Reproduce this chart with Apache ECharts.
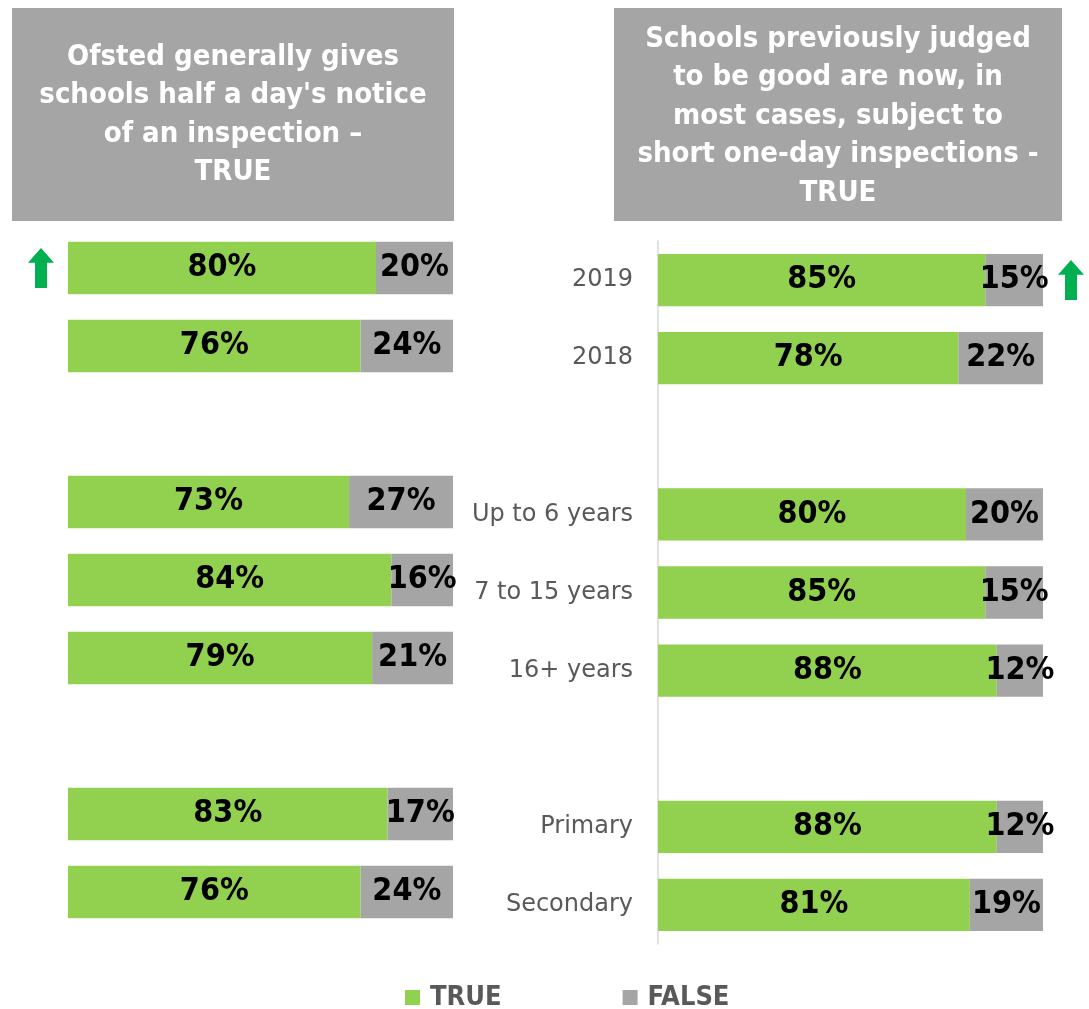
<!DOCTYPE html>
<html>
<head>
<meta charset="utf-8">
<script src="https://cdn.jsdelivr.net/npm/echarts@6/dist/echarts.min.js"></script>
<style>html,body{margin:0;padding:0;background:#fff}#c{width:1089px;height:1009px}</style>
</head>
<body>
<div id="c"></div>
<script>
const categories = ['2019', '2018', ' ', 'Up to 6 years', '7 to 15 years', '16+ years', '  ', 'Primary', 'Secondary'];
const leftTrue  = [80, 76, null, 73, 84, 79, null, 83, 76];
const leftFalse = [20, 24, null, 27, 16, 21, null, 17, 24];
const rightTrue  = [85, 78, null, 80, 85, 88, null, 88, 81];
const rightFalse = [15, 22, null, 20, 15, 12, null, 12, 19];
const leftTitle = "Ofsted generally gives\nschools half a day's notice\nof an inspection –\nTRUE";
const rightTitle = "Schools previously judged\nto be good are now, in\nmost cases, subject to\nshort one-day inspections -\nTRUE";

const GREEN = '#92d050', GREY = '#a5a5a5', ARROW = '#00b050';
const FONT = '"DejaVu Sans Condensed", "DejaVu Sans", sans-serif';
const FONT_W = '"DejaVu Sans", sans-serif';
const arrowPath = 'path://M13,0 L26,14 L19,14 L19,38 L7,38 L7,14 L0,14 Z';

const valLabel = {
  show: true, position: 'inside', color: '#000', fontFamily: FONT,
  fontWeight: 'bold', fontSize: 32, formatter: p => p.value == null ? '' : p.value + '%'
};

const chart = echarts.init(document.getElementById('c'));
chart.setOption({
  animation: false,
  backgroundColor: '#fff',
  grid: [
    { left: 68, width: 385, top: 229, height: 702 },
    { left: 658, width: 385, top: 241, height: 703 }
  ],
  xAxis: [
    { gridIndex: 0, type: 'value', min: 0, max: 100, show: false },
    { gridIndex: 1, type: 'value', min: 0, max: 100, show: false }
  ],
  yAxis: [
    { gridIndex: 0, type: 'category', data: categories, inverse: true, show: false },
    { gridIndex: 1, type: 'category', data: categories, inverse: true,
      axisLine: { show: true, lineStyle: { color: '#d9d9d9', width: 1.5 } },
      axisTick: { show: false },
      axisLabel: { color: '#595959', fontFamily: FONT_W, fontSize: 24, margin: 25 } }
  ],
  legend: {
    left: 400, top: 979, itemWidth: 15, itemHeight: 15, itemGap: 121,
    icon: 'rect',
    data: ['TRUE', 'FALSE'],
    textStyle: { color: '#595959', fontFamily: FONT, fontWeight: 'bold', fontSize: 27, padding: [0, 0, 0, 5] }
  },
  graphic: [
    { type: 'rect', shape: { x: 12, y: 8, width: 442, height: 213 }, style: { fill: GREY }, silent: true },
    { type: 'text', x: 233, y: 115, style: { text: leftTitle, fill: '#fff', font: 'bold 29px ' + FONT,
      textAlign: 'center', textVerticalAlign: 'middle', lineHeight: 38.5 }, silent: true },
    { type: 'rect', shape: { x: 614, y: 8, width: 448, height: 213 }, style: { fill: GREY }, silent: true },
    { type: 'text', x: 838, y: 116, style: { text: rightTitle, fill: '#fff', font: 'bold 29px ' + FONT,
      textAlign: 'center', textVerticalAlign: 'middle', lineHeight: 38.5 }, silent: true }
  ],
  series: [
    { name: 'TRUE', type: 'bar', stack: 'l', xAxisIndex: 0, yAxisIndex: 0, data: leftTrue,
      barCategoryGap: '33%', itemStyle: { color: GREEN }, label: valLabel,
      markPoint: { symbol: arrowPath, symbolSize: [26, 40], symbolOffset: [-27, 0],
        itemStyle: { color: ARROW }, label: { show: false },
        data: [{ coord: [0, 0] }] } },
    { name: 'FALSE', type: 'bar', stack: 'l', xAxisIndex: 0, yAxisIndex: 0, data: leftFalse,
      barCategoryGap: '33%', itemStyle: { color: GREY }, label: valLabel },
    { name: 'TRUE', type: 'bar', stack: 'r', xAxisIndex: 1, yAxisIndex: 1, data: rightTrue,
      barCategoryGap: '33%', itemStyle: { color: GREEN }, label: valLabel },
    { name: 'FALSE', type: 'bar', stack: 'r', xAxisIndex: 1, yAxisIndex: 1, data: rightFalse,
      barCategoryGap: '33%', itemStyle: { color: GREY }, label: valLabel,
      markPoint: { symbol: arrowPath, symbolSize: [26, 40], symbolOffset: [28, 0],
        itemStyle: { color: ARROW }, label: { show: false },
        data: [{ coord: [100, 0] }] } }
  ]
});
</script>
</body>
</html>
